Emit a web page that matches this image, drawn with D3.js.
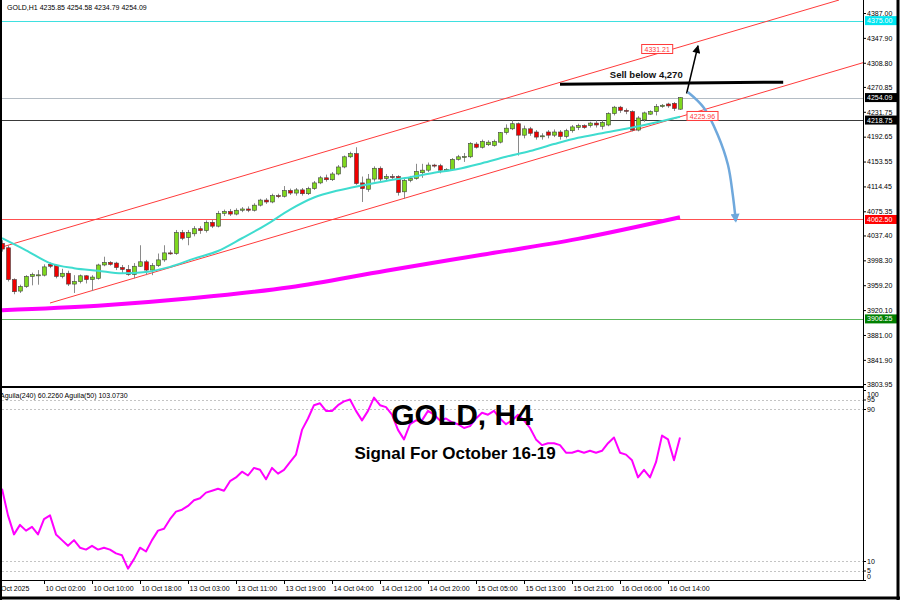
<!DOCTYPE html>
<html>
  <head>
    <meta charset="utf-8" />
    <title>GOLD, H4</title>
    <script src="https://d3js.org/d3.v7.min.js"></script>
    <style>
      body { margin: 0; background: #fff; }
      svg { display: block; font-family: "Liberation Sans", Arial, sans-serif; }
    </style>
  </head>
  <body>
    <svg id="chart" width="900" height="600"></svg>

    <script>
      // H1 candles, one per bar index (0 = first visible bar)
      const opens = [
        4025, 4018, 3968, 3950, 3957, 3973, 3975, 3975, 3992, 3990,
        3973, 3978, 3961, 3965, 3974, 3968, 3970, 3991, 3995, 3994,
        3987, 3984, 3976, 3989, 3996, 3983, 3990, 3999, 4010, 4009,
        4042, 4034, 4040, 4048, 4045, 4058, 4052, 4072, 4075, 4071,
        4077, 4079, 4077, 4085, 4093, 4090, 4100, 4099, 4108, 4104,
        4109, 4103, 4111, 4120, 4128, 4125, 4134, 4145, 4161, 4166,
        4120, 4110, 4126, 4143, 4127, 4130, 4130, 4106, 4124, 4127,
        4136, 4140, 4148, 4147, 4140, 4141, 4157, 4161, 4161, 4181,
        4176, 4180, 4179, 4184, 4199, 4205, 4213, 4195, 4205, 4200,
        4193, 4200, 4195, 4200, 4193, 4202, 4207, 4210, 4210, 4214,
        4209, 4211, 4229, 4239, 4234, 4232, 4203, 4219, 4228, 4232,
        4240, 4244, 4245, 4235.85
      ];
      const highs = [
        4030, 4022, 3970, 3960, 3975, 3979, 3983, 3992, 3995, 3992,
        3985, 3982, 3975, 3976, 3975, 3975, 3993, 4004, 3997, 3996,
        3991, 3991, 3994, 4022, 3999, 3994, 4009, 4022, 4014, 4046,
        4046, 4046, 4052, 4052, 4061, 4062, 4076, 4078, 4079, 4080,
        4082, 4083, 4088, 4095, 4096, 4103, 4103, 4115, 4111, 4112,
        4112, 4114, 4123, 4131, 4133, 4137, 4148, 4163, 4169, 4176,
        4130, 4134, 4146, 4146, 4134, 4134, 4132, 4127, 4131, 4150,
        4150, 4152, 4150, 4150, 4143, 4159, 4164, 4167, 4184, 4184,
        4188, 4187, 4188, 4200, 4212, 4218, 4215, 4210, 4208, 4203,
        4198, 4203, 4204, 4203, 4205, 4211, 4213, 4212, 4216, 4218,
        4218, 4231, 4241, 4241, 4237, 4234, 4225, 4232, 4234, 4244,
        4244, 4246, 4247, 4254.58
      ];
      const lows = [
        4012, 3965, 3945, 3947, 3955, 3959, 3960, 3973, 3986, 3970,
        3970, 3958, 3947, 3962, 3962, 3950, 3968, 3989, 3990, 3983,
        3978, 3974, 3970, 3988, 3975, 3975, 3988, 3996, 4007, 4007,
        4030, 4022, 4036, 4040, 4042, 4049, 4050, 4068, 4068, 4069,
        4074, 4074, 4075, 4083, 4087, 4088, 4096, 4097, 4101, 4100,
        4100, 4101, 4109, 4118, 4122, 4123, 4132, 4143, 4159, 4117,
        4090, 4106, 4122, 4123, 4124, 4125, 4100, 4095, 4121, 4125,
        4128, 4137, 4144, 4135, 4138, 4139, 4155, 4153, 4159, 4174,
        4174, 4178, 4177, 4182, 4196, 4203, 4163, 4190, 4194, 4188,
        4188, 4190, 4192, 4188, 4190, 4199, 4203, 4205, 4207, 4207,
        4204, 4209, 4226, 4230, 4228, 4201, 4201, 4216, 4227, 4226,
        4238, 4238, 4233, 4234.79
      ];
      const closes = [
        4016, 3968, 3949, 3957, 3973, 3976, 3975.5, 3988, 3989, 3973,
        3978, 3961, 3965, 3974, 3968, 3972, 3991, 3995, 3992, 3987,
        3984, 3976, 3989, 3996, 3983, 3990, 3999, 4010, 4009, 4042,
        4033, 4042, 4048, 4045, 4058, 4052, 4072, 4075, 4071, 4077,
        4079, 4077, 4085, 4093, 4090, 4100, 4099, 4108, 4104, 4109,
        4103, 4111, 4120, 4128, 4125, 4134, 4145, 4161, 4166, 4119,
        4111, 4126, 4143, 4126, 4130, 4129.5, 4105, 4124, 4127, 4138,
        4140, 4148, 4147, 4140, 4141, 4157, 4161, 4161.5, 4182, 4176,
        4185, 4184, 4185, 4199, 4206, 4213, 4195, 4205, 4198, 4192,
        4194, 4195, 4200, 4193, 4202, 4208, 4210, 4207, 4214, 4211,
        4215, 4229, 4239, 4234, 4233.5, 4203, 4222, 4230, 4232, 4240,
        4242, 4241, 4237, 4254.09
      ];

      // moving averages
      const maFastBars = [0, 4, 8, 12, 16, 20, 24, 28, 32, 36, 40, 44, 48, 52, 56, 60, 64, 68, 72, 76, 80, 84, 88, 92, 96, 100, 104, 108, 113];
      const maFastValues = [4033, 4014, 3994, 3986, 3982, 3978, 3980, 3988, 4001, 4013, 4033, 4054, 4078, 4097, 4108, 4116, 4123, 4129, 4136, 4142, 4151, 4161, 4170, 4181, 4191, 4198, 4205, 4213, 4224];
      const maSlowBars = [0, 16, 32, 48, 64, 80, 96, 113];
      const maSlowValues = [3920, 3927, 3939, 3956, 3982, 4007, 4032, 4066];

      // lower panel oscillator, one value per bar
      const aguila = [
        48, 34, 24, 29, 26, 28, 24, 32, 34, 24,
        21, 18, 21, 17, 16, 18, 16, 17, 16, 14,
        13, 6, 11, 17, 15, 21, 26, 27, 32, 36,
        37, 39, 42, 43, 46, 47, 48, 47, 52, 54,
        57, 55, 59, 58, 53, 59, 56, 58, 62, 66,
        79, 85, 92, 93, 89, 89, 92, 94, 95, 89,
        84, 89, 96, 92, 91, 87, 79, 74, 82, 84,
        84, 89, 87, 84, 85, 83, 82, 80, 81, 85,
        88, 87, 89, 85, 82, 84, 87, 84, 80, 74,
        71, 72, 72, 71, 67, 67, 68, 67, 68, 67,
        68, 72, 75, 67, 66, 63, 54, 58, 54, 62,
        76, 74, 63, 75
      ];

      const priceTicks = ["4387.00", "4347.90", "4308.80", "4270.85", "4231.75", "4192.65", "4153.55", "4114.45",
        "4075.35", "4037.40", "3998.30", "3959.20", "3920.10", "3881.00", "3841.90", "3803.95"];
      const timeTickBars = [7, 15, 23, 31, 39, 47, 55, 63, 71, 79, 87, 95, 103, 111];
      const timeTickLabels = ["10 Oct 02:00", "10 Oct 10:00", "10 Oct 18:00", "13 Oct 03:00", "13 Oct 11:00", "13 Oct 19:00",
        "14 Oct 04:00", "14 Oct 12:00", "14 Oct 20:00", "15 Oct 05:00", "15 Oct 13:00", "15 Oct 21:00", "16 Oct 06:00", "16 Oct 14:00"];
      const levelTicks = [100, 95, 90, 10, 5, 0];
      const dashedLevels = [95, 90, 10, 5];

      // horizontal levels: price, line colour, label box colour
      const levelPrices = [4375.0, 4254.09, 4218.75, 4062.5, 3906.25];
      const levelLineColors = ["#3fe0e0", "#b4bcc4", "#3a3a3a", "#ff5050", "#5cb85c"];
      const levelBoxColors = ["#00e5f0", "#000000", "#000000", "#ff0000", "#008000"];

      // trend channel, [bar, price] end points
      const channelUpper = [[0, 4019.2], [139.5, 4407.4]];
      const channelLower = [[8, 3931.2], [143.5, 4308.9]];
      const sellLine = [[93, 4275.1], [130.2, 4278.3]];
      const upArrow = [[114.1, 4260.5], [116, 4335.5]];
      const downArrow = [[114.3, 4262.8], [117, 4237.7], [119.3, 4195.3], [121, 4148.1], [121.8, 4101], [122.3, 4060]];
      const tagPrices = [4331.21, 4225.96];
      const tagBars = [109.2, 116.75];

      const svg = d3.select("#chart");
      const plotRight = 863;

      const x = d3.scaleLinear().domain([0, 113]).range([2, 680]);
      const y = d3.scaleLinear().domain([3803.95, 4387]).range([384, 13]);
      const yInd = d3.scaleLinear().domain([0, 100]).range([580, 390]);

      svg.append("rect").attr("width", 900).attr("height", 600).attr("fill", "#fff");

      const defs = svg.append("defs");
      defs.append("clipPath").attr("id", "clipMain")
        .append("rect").attr("x", 2).attr("y", 0).attr("width", plotRight - 2).attr("height", 386);
      defs.append("clipPath").attr("id", "clipInd")
        .append("rect").attr("x", 2).attr("y", 389).attr("width", plotRight - 2).attr("height", 191);

      defs.append("marker").attr("id", "headBlack")
        .attr("viewBox", "0 0 10 10").attr("refX", 9).attr("refY", 5)
        .attr("markerUnits", "userSpaceOnUse").attr("markerWidth", 9).attr("markerHeight", 8)
        .attr("orient", "auto")
        .append("path").attr("d", "M0,0L10,5L0,10z").attr("fill", "#000");
      defs.append("marker").attr("id", "headBlue")
        .attr("viewBox", "0 0 10 10").attr("refX", 8).attr("refY", 5)
        .attr("markerUnits", "userSpaceOnUse").attr("markerWidth", 10).attr("markerHeight", 9)
        .attr("orient", "auto")
        .append("path").attr("d", "M0,0L10,5L0,10z").attr("fill", "#6fa8dc");

      const main = svg.append("g").attr("clip-path", "url(#clipMain)");

      // horizontal levels
      main.selectAll(".level")
        .data(levelPrices)
        .enter()
        .append("line")
        .attr("x1", 2).attr("x2", plotRight)
        .attr("y1", (d) => Math.round(y(d)) + 0.5)
        .attr("y2", (d) => Math.round(y(d)) + 0.5)
        .attr("stroke", (d, i) => levelLineColors[i])
        .attr("stroke-width", 1);

      // channel
      const seg = d3.line().x((d) => x(d[0])).y((d) => y(d[1]));
      [channelUpper, channelLower].forEach((c) => {
        main.append("path").attr("d", seg(c)).attr("fill", "none")
          .attr("stroke", "#ff3b3b").attr("stroke-width", 1);
      });

      // slow MA (magenta, thick)
      const maLine = d3.line().x((d) => x(d[0])).y((d) => y(d[1])).curve(d3.curveMonotoneX);
      main.append("path")
        .attr("d", maLine(maSlowBars.map((b, i) => [b, maSlowValues[i]])))
        .attr("fill", "none").attr("stroke", "#ff00ff").attr("stroke-width", 4);

      // candles
      const bars = d3.range(opens.length).map((i) => ({
        i, o: opens[i], h: highs[i], l: lows[i], c: closes[i],
      }));
      const candles = main.append("g");
      candles.selectAll(".wick")
        .data(bars)
        .enter()
        .append("line")
        .attr("x1", (d) => Math.round(x(d.i)) + 0.5)
        .attr("x2", (d) => Math.round(x(d.i)) + 0.5)
        .attr("y1", (d) => y(d.h))
        .attr("y2", (d) => y(d.l))
        .attr("stroke", "#8a8a8a")
        .attr("stroke-width", 1);
      candles.selectAll(".body")
        .data(bars)
        .enter()
        .append("rect")
        .attr("x", (d) => Math.round(x(d.i)) - 1.5)
        .attr("width", 4)
        .attr("y", (d) => y(Math.max(d.o, d.c)))
        .attr("height", (d) => Math.max(1, Math.abs(y(d.o) - y(d.c))))
        .attr("fill", (d) => (d.c > d.o ? "#7fd81e" : d.c < d.o ? "#f00000" : "#8a8a8a"))
        .attr("stroke", "#404040")
        .attr("stroke-width", 0.6);

      // fast MA (cyan)
      main.append("path")
        .attr("d", maLine(maFastBars.map((b, i) => [b, maFastValues[i]])))
        .attr("fill", "none").attr("stroke", "#3fdccf").attr("stroke-width", 2);

      // trade drawing
      main.append("path").attr("d", seg(sellLine)).attr("stroke", "#000").attr("stroke-width", 3);
      main.append("text")
        .attr("x", x(101.3)).attr("y", y(4285))
        .text("Sell below 4,270")
        .attr("font-size", "9.5px").attr("font-weight", "bold").attr("fill", "#111");
      main.append("path").attr("d", seg(upArrow)).attr("stroke", "#000").attr("stroke-width", 1.5)
        .attr("marker-end", "url(#headBlack)");
      main.append("path")
        .attr("d", d3.line().x((d) => x(d[0])).y((d) => y(d[1])).curve(d3.curveCatmullRom)(downArrow))
        .attr("fill", "none").attr("stroke", "#6fa8dc").attr("stroke-width", 2.5)
        .attr("marker-end", "url(#headBlue)");

      // price tags on the channel
      tagPrices.forEach((p, i) => {
        const cx = x(tagBars[i]);
        const cy = y(p) + 1;
        main.append("rect")
          .attr("x", cx - 15.5).attr("y", cy - 5).attr("width", 31).attr("height", 9)
          .attr("fill", "#fff").attr("stroke", "#ff3b3b").attr("stroke-width", 1);
        main.append("text")
          .attr("x", cx).attr("y", cy + 2.5).attr("text-anchor", "middle")
          .attr("font-size", "7px").attr("fill", "#ff3b3b")
          .text(p.toFixed(2));
      });

      // lower panel
      const ind = svg.append("g").attr("clip-path", "url(#clipInd)");
      ind.selectAll(".lvl")
        .data(dashedLevels)
        .enter()
        .append("line")
        .attr("x1", 2).attr("x2", plotRight)
        .attr("y1", (d) => Math.round(yInd(d)) + 0.5)
        .attr("y2", (d) => Math.round(yInd(d)) + 0.5)
        .attr("stroke", "#c4c4c4").attr("stroke-dasharray", "2,2");
      ind.append("path")
        .datum(aguila)
        .attr("d", d3.line().x((d, i) => x(i)).y((d) => yInd(d)))
        .attr("fill", "none").attr("stroke", "#ff00ff").attr("stroke-width", 2)
        .attr("stroke-linejoin", "round");

      // titles
      svg.append("text").attr("x", 462).attr("y", 425).attr("text-anchor", "middle")
        .attr("font-size", "30px").attr("font-weight", "bold").attr("fill", "#000")
        .text("GOLD, H4");
      svg.append("text").attr("x", 455).attr("y", 459).attr("text-anchor", "middle")
        .attr("font-size", "17px").attr("font-weight", "bold").attr("fill", "#000")
        .text("Signal For October 16-19");

      svg.append("text").attr("x", 7).attr("y", 10).attr("font-size", "7px").attr("fill", "#000")
        .text("GOLD,H1  4235.85 4254.58 4234.79 4254.09");
      svg.append("text").attr("x", 0).attr("y", 398).attr("font-size", "7px").attr("fill", "#000")
        .text("Aguila(240) 60.2260  Aguila(50) 103.0730");

      // axes
      const priceAxis = d3.axisRight(y)
        .tickValues(priceTicks.map(Number))
        .tickFormat((d, i) => priceTicks[i])
        .tickSize(3).tickSizeOuter(0);
      const gp = svg.append("g").attr("transform", `translate(${plotRight},0)`).call(priceAxis);
      const indAxis = d3.axisRight(yInd).tickValues(levelTicks).tickSize(3).tickSizeOuter(0);
      const gi = svg.append("g").attr("transform", `translate(${plotRight},0)`).call(indAxis);
      const timeAxis = d3.axisBottom(x)
        .tickValues(timeTickBars)
        .tickFormat((d, i) => timeTickLabels[i])
        .tickSize(4).tickSizeOuter(0);
      const gt = svg.append("g").attr("transform", "translate(0,580)").call(timeAxis);
      [gp, gi, gt].forEach((g) => {
        g.select(".domain").remove();
        g.selectAll("text").attr("font-size", "7px").attr("fill", "#000")
          .style("font-family", "'Liberation Sans', Arial, sans-serif");
        g.selectAll("line").attr("stroke", "#000");
      });
      gp.selectAll("text").attr("x", 4);
      // top and bottom labels of the lower scale are pushed inside the panel
      gi.selectAll("text").attr("x", 4)
        .attr("dy", (d) => (d === 100 ? "0.9em" : d === 0 ? "-0.25em" : "0.32em"));
      gt.selectAll("text").attr("text-anchor", "start").attr("x", 1).attr("y", 6).attr("dy", "0.71em");
      svg.append("text").attr("x", 1).attr("y", 591).attr("font-size", "7px").text("Oct 2025");

      // value boxes on the price scale
      levelPrices.forEach((p, i) => {
        svg.append("rect")
          .attr("x", plotRight + 2).attr("y", y(p) - 4.5).attr("width", 32).attr("height", 9)
          .attr("fill", levelBoxColors[i]);
        svg.append("text")
          .attr("x", plotRight + 4).attr("y", y(p) + 2.5)
          .attr("font-size", "7px").attr("fill", "#fff")
          .text(p.toFixed(2));
      });

      // frame
      const frame = svg.append("g").attr("stroke", "#000").attr("fill", "none");
      frame.append("line").attr("x1", 1).attr("x2", 1).attr("y1", 0).attr("y2", 600).attr("stroke-width", 2);
      frame.append("line").attr("x1", 898).attr("x2", 898).attr("y1", 0).attr("y2", 600).attr("stroke-width", 3);
      frame.append("line").attr("x1", 0).attr("x2", 900).attr("y1", 598).attr("y2", 598).attr("stroke-width", 3);
      frame.append("line").attr("x1", plotRight + 0.5).attr("x2", plotRight + 0.5).attr("y1", 0).attr("y2", 580.5);
      frame.append("line").attr("x1", 0).attr("x2", plotRight).attr("y1", 580.5).attr("y2", 580.5);
      frame.append("line").attr("x1", 0).attr("x2", plotRight).attr("y1", 387).attr("y2", 387).attr("stroke-width", 2);
    </script>
  </body>
</html>
